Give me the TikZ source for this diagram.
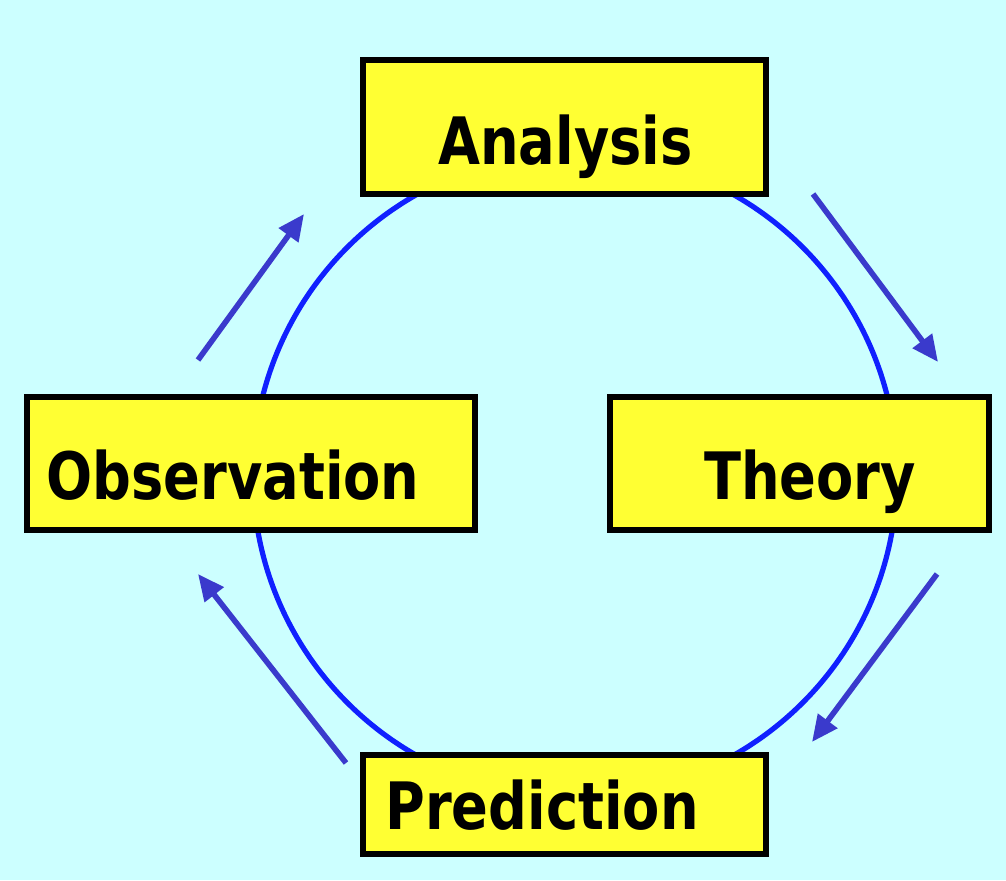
\documentclass[tikz,border=0pt]{standalone}
\usepackage{fontspec}
\usetikzlibrary{arrows.meta,positioning}
\newfontfamily\cyclefont[FakeStretch=0.83]{DejaVu Sans}
\definecolor{cycleSky}{HTML}{CCFFFF}
\definecolor{cycleYellow}{HTML}{FFFF33}
\definecolor{cycleRing}{HTML}{1020FF}
\definecolor{cycleArrow}{HTML}{3A3ACC}

\begin{document}
\begin{tikzpicture}[
  x=1cm,
  y=1cm,
  stagebox/.style={
    draw=black,
    fill=cycleYellow,
    line width=.15cm,
    minimum height=3.325cm,
    inner sep=0pt
  },
  stagelabel/.style={
    anchor=base,
    inner sep=0pt,
    font=\cyclefont\bfseries\fontsize{46.5pt}{50pt}\selectfont
  },
  ring/.style={draw=cycleRing, line width=.13cm},
  turn/.style={-{Triangle[length=.66cm,width=.58cm]}, draw=cycleArrow, line width=.14cm}
]

\path[use as bounding box, fill=cycleSky] (0,0) rectangle (25.15,22);

% the loop behind the boxes
\coordinate (hub) at (14.375,10.125);
\draw[ring] (hub) circle (8.05);

\node[stagebox, minimum width=10.075cm, minimum height=3.35cm] (analysis) at (14.1125,18.825) {};
\node[stagebox, minimum width=9.475cm] (theory) at (19.9875,10.4125) {};
\node[stagebox, minimum width=11.2cm] (observation) at (6.275,10.4125) {};
\node[stagebox, minimum width=10.075cm, minimum height=2.475cm] (prediction) at (14.1125,1.8875) {};

\node[stagelabel] (analysistext) at (14.1375,17.875) {Analysis};
\node[stagelabel] (theorytext) at (20.25,9.5) {Theory};
\node[stagelabel] (observationtext) at (5.825,9.5) {Observation};
\node[stagelabel] (predictiontext) at (13.55,1.275) {Prediction};

% arrows going round
\coordinate (upFrom) at (4.95,13.0);
\coordinate (upTo) at (7.6,16.65);
\coordinate (rightFrom) at (20.325,17.15);
\coordinate (rightTo) at (23.45,12.95);
\coordinate (downFrom) at (23.425,7.65);
\coordinate (downTo) at (20.3,3.45);
\coordinate (leftFrom) at (8.65,2.925);
\coordinate (leftTo) at (4.95,7.65);

\draw[turn] (upFrom) -- (upTo);
\draw[turn] (rightFrom) -- (rightTo);
\draw[turn] (downFrom) -- (downTo);
\draw[turn] (leftFrom) -- (leftTo);
\end{tikzpicture}
\end{document}
